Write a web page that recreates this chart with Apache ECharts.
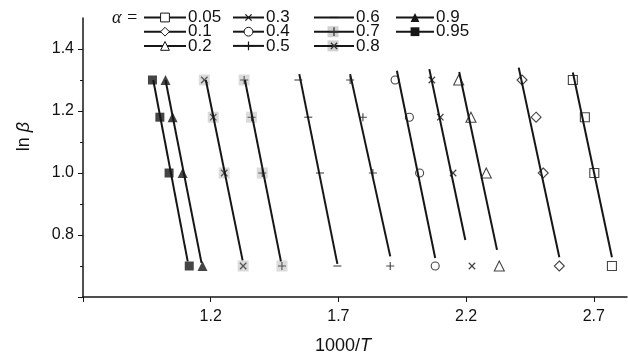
<!DOCTYPE html>
<html>
<head>
<meta charset="utf-8">
<script src="https://cdn.jsdelivr.net/npm/echarts@6/dist/echarts.min.js"></script>
<style>
  html, body { margin: 0; padding: 0; background: #fff; }
  #chart { width: 628px; height: 360px; }
</style>
</head>
<body>
<div id="chart"></div>
<script>
// ln(beta) levels, top to bottom
const lnBeta = [1.30, 1.18, 1.00, 0.70]

const alphas = ['0.05', '0.1', '0.2', '0.3', '0.4', '0.5', '0.6', '0.7', '0.8', '0.9', '0.95']

// 1000/T for each alpha, same order as lnBeta
const invT = {
  '0.05': [2.618, 2.665, 2.702, 2.771],
  '0.1': [2.419, 2.474, 2.502, 2.565],
  '0.2': [2.171, 2.219, 2.279, 2.330],
  '0.3': [2.066, 2.099, 2.149, 2.223],
  '0.4': [1.922, 1.978, 2.018, 2.079],
  '0.5': [1.746, 1.796, 1.835, 1.903],
  '0.6': [1.543, 1.582, 1.628, 1.696],
  '0.7': [1.331, 1.360, 1.402, 1.479],
  '0.8': [1.175, 1.210, 1.253, 1.327],
  '0.9': [1.023, 1.051, 1.090, 1.168],
  '0.95': [0.972, 1.001, 1.037, 1.116]
}

// fitted lines: [x top, y top, x bottom, y bottom]
const fitLines = {
  '0.05': [2.618, 1.324, 2.771, 0.728],
  '0.1': [2.406, 1.340, 2.565, 0.728],
  '0.2': [2.173, 1.326, 2.321, 0.752],
  '0.3': [2.056, 1.335, 2.197, 0.784],
  '0.4': [1.929, 1.330, 2.079, 0.726],
  '0.5': [1.746, 1.319, 1.903, 0.731],
  '0.6': [1.547, 1.319, 1.696, 0.707],
  '0.7': [1.334, 1.300, 1.475, 0.715],
  '0.8': [1.181, 1.300, 1.325, 0.718],
  '0.9': [1.023, 1.300, 1.164, 0.710],
  '0.95': [0.975, 1.300, 1.110, 0.715]
}

const xTicks = [0.7, 1.2, 1.7, 2.2, 2.7]
const xLabels = [1.2, 1.7, 2.2, 2.7]
const yTicks = [0.6, 0.8, 1.0, 1.2, 1.4]
const yLabels = [0.8, 1.0, 1.2, 1.4]

const INK = '#161616'
const FONT = 'Liberation Sans, Arial, sans-serif'
const PLUS = 'path://M4.3,0h1.4v10h-1.4zM0,4.3h10v1.4h-10z'
const DASH = 'path://M0,0L0,0M0,4.3h10v1.4h-10zM0,10L0,10'

// marker style per alpha
const markers = {
  '0.05': { symbol: 'rect', size: 9, hollow: true },
  '0.1': { symbol: 'diamond', size: 10, hollow: true },
  '0.2': { symbol: 'triangle', size: 10, hollow: true },
  '0.3': { symbol: PLUS, size: 9, rotate: 45, stroke: true },
  '0.4': { symbol: 'circle', size: 8, hollow: true },
  '0.5': { symbol: PLUS, size: 8, stroke: true },
  '0.6': { symbol: DASH, size: 8, stroke: true },
  '0.7': { symbol: PLUS, size: 8, stroke: true, box: true },
  '0.8': { symbol: PLUS, size: 9, rotate: 45, stroke: true, box: true },
  '0.9': { symbol: 'triangle', size: 10 },
  '0.95': { symbol: 'rect', size: 9 }
}

const lineSeries = alphas.map(a => {
  const l = fitLines[a]
  return {
    name: a,
    type: 'line',
    data: [[l[0], l[1]], [l[2], l[3]]],
    showSymbol: false,
    symbol: markers[a].symbol,
    symbolRotate: markers[a].rotate || 0,
    lineStyle: { color: INK, width: 2 },
    itemStyle: { color: INK },
    silent: true,
    animation: false
  }
})

const boxSeries = alphas.filter(a => markers[a].box).map(a => ({
  name: a + ' box',
  type: 'scatter',
  data: invT[a].map((x, i) => [x, lnBeta[i]]),
  symbol: 'rect',
  symbolSize: 11,
  itemStyle: { color: '#d2d2d2' },
  animation: false
}))

const markerSeries = alphas.map(a => {
  const m = markers[a]
  return {
    name: a,
    type: 'scatter',
    data: invT[a].map((x, i) => [x, lnBeta[i]]),
    symbol: m.symbol,
    symbolSize: m.size,
    symbolRotate: m.rotate || 0,
    itemStyle: m.hollow
      ? { color: 'transparent', borderColor: INK, borderWidth: 1.1 }
      : { color: m.box ? '#333' : INK },
    animation: false
  }
})

function legendItem(a) {
  const m = markers[a]
  return {
    name: a,
    itemStyle: m.hollow
      ? { color: '#fff', borderColor: INK, borderWidth: 1 }
      : { color: m.box ? '#333' : INK, borderWidth: 0 }
  }
}

const legendCols = [
  { names: ['0.05', '0.1', '0.2'], left: 143, width: 42 },
  { names: ['0.3', '0.4', '0.5'], left: 232, width: 31 },
  { names: ['0.6', '0.7', '0.8'], left: 313, width: 40 },
  { names: ['0.9', '0.95'], left: 395, width: 38 }
]
const LEGEND_TOP = 9
const ROW = 14.2
const ROW_H = 17

const chart = echarts.init(document.getElementById('chart'))
chart.setOption({
  backgroundColor: '#fff',
  animation: false,
  grid: { left: 83, right: 1, top: 18, bottom: 57, containLabel: false },
  legend: legendCols.map(c => ({
    data: c.names.map(legendItem),
    orient: 'vertical',
    left: c.left,
    top: LEGEND_TOP,
    padding: 0,
    itemWidth: c.width,
    itemHeight: 11,
    itemGap: ROW - ROW_H,
    selectedMode: false,
    lineStyle: { color: INK, width: 2 },
    textStyle: { color: '#111', fontSize: 17, fontFamily: FONT, padding: [0, 0, 0, -3] }
  })),
  graphic: [
    {
      type: 'text', left: 112, top: LEGEND_TOP,
      style: { text: 'α =', fill: '#111', font: 'italic 18px "Liberation Serif", serif' }
    },
    { type: 'rect', shape: { x: 327.5, y: LEGEND_TOP + ROW_H / 2 + ROW - 5.5, width: 11, height: 11 }, style: { fill: '#d2d2d2' }, z: 0 },
    { type: 'rect', shape: { x: 327.5, y: LEGEND_TOP + ROW_H / 2 + ROW * 2 - 5.5, width: 11, height: 11 }, style: { fill: '#d2d2d2' }, z: 0 }
  ],
  xAxis: {
    type: 'value',
    min: 0.7,
    max: 2.83,
    interval: 0.5,
    name: '1000/{i|T}',
    nameLocation: 'middle',
    nameGap: 40,
    nameTextStyle: {
      color: '#111', fontSize: 18, fontFamily: FONT, padding: [0, 24, 0, 0],
      rich: { i: { fontStyle: 'italic', fontSize: 18, fontFamily: FONT, color: '#111' } }
    },
    axisLine: { show: true, lineStyle: { color: INK, width: 1.5 } },
    axisTick: { show: true, inside: false, length: 5, customValues: xTicks, lineStyle: { color: INK } },
    axisLabel: { customValues: xLabels, margin: 12, color: '#111', fontSize: 16, fontFamily: FONT, formatter: v => v.toFixed(1) },
    splitLine: { show: false }
  },
  yAxis: {
    type: 'value',
    min: 0.6,
    max: 1.5,
    interval: 0.2,
    name: 'ln {i|β}',
    nameLocation: 'middle',
    nameRotate: 90,
    nameGap: 50,
    nameTextStyle: {
      color: '#111', fontSize: 18, fontFamily: FONT, padding: [0, 0, 0, 42],
      rich: { i: { fontStyle: 'italic', fontSize: 18, fontFamily: FONT, color: '#111' } }
    },
    axisLine: { show: true, lineStyle: { color: INK, width: 1.5 } },
    axisTick: { show: true, inside: false, length: 5, customValues: yTicks, lineStyle: { color: INK } },
    minorTick: { show: true, splitNumber: 2, length: 3, lineStyle: { color: INK } },
    axisLabel: { customValues: yLabels, margin: 9, color: '#111', fontSize: 16, fontFamily: FONT, formatter: v => v.toFixed(1) },
    splitLine: { show: false }
  },
  series: [...lineSeries, ...boxSeries, ...markerSeries]
})
</script>
</body>
</html>
